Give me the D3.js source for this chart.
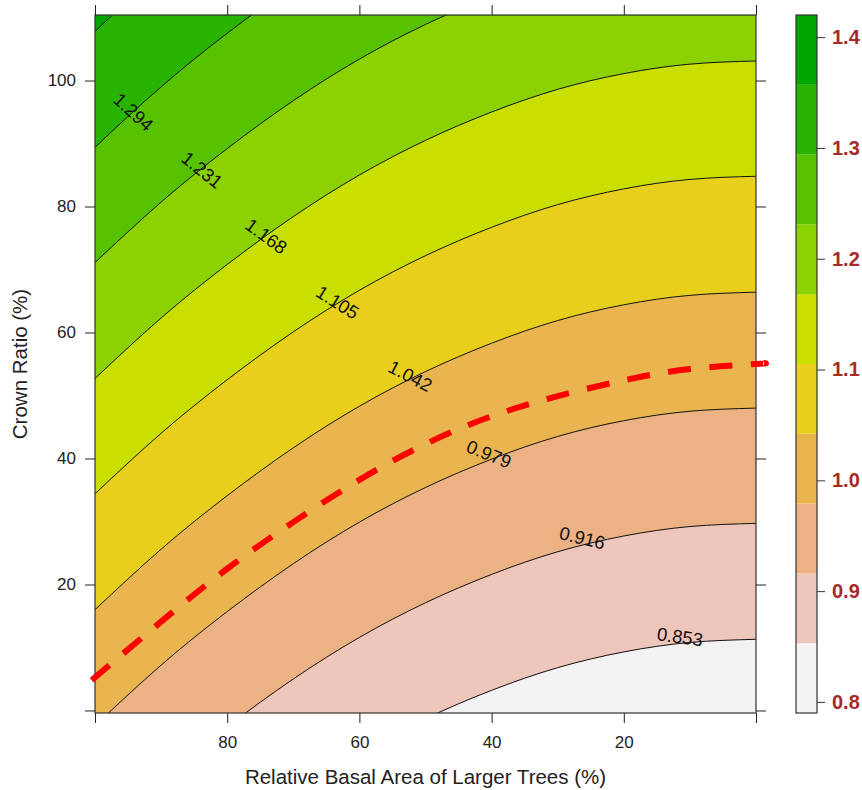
<!DOCTYPE html>
<html>
<head>
<meta charset="utf-8">
<script src="https://cdn.jsdelivr.net/npm/d3@7"></script>
<style>
  body { margin: 0; background: #fff; }
  svg { display: block; font-family: "Liberation Sans", Arial, sans-serif; }
</style>
</head>
<body>
<div id="chart"></div>
<script>
// x columns (Relative Basal Area of Larger Trees, %) where each contour was read
const basalArea = [100, 90, 80, 70, 60, 50, 40, 30, 20, 10, 0];

const contourLevels = [0.853, 0.916, 0.979, 1.042, 1.105, 1.168, 1.231, 1.294, 1.357];

// Crown Ratio (%) of each contour line at the columns above (parts outside the panel are estimates)
const contourCrownRatio = [
    [-39.1, -29.5, -21.0, -13.4, -6.8, -1.3, 3.2, 6.8, 9.3, 10.8, 11.3],
    [-20.7, -11.1, -2.6, 5.0, 11.6, 17.1, 21.6, 25.2, 27.7, 29.2, 29.7],
    [-2.4, 7.2, 15.7, 23.3, 29.9, 35.4, 39.9, 43.5, 46.0, 47.5, 48.0],
    [16.0, 25.6, 34.1, 41.7, 48.3, 53.8, 58.3, 61.9, 64.4, 65.9, 66.4],
    [34.4, 44.0, 52.5, 60.1, 66.7, 72.2, 76.7, 80.3, 82.8, 84.3, 84.8],
    [52.7, 62.3, 70.8, 78.4, 85.0, 90.5, 95.0, 98.6, 101.1, 102.6, 103.1],
    [71.1, 80.7, 89.2, 96.8, 103.4, 108.9, 113.4, 117.0, 119.5, 121.0, 121.5],
    [89.4, 99.0, 107.5, 115.1, 121.7, 127.2, 131.7, 135.3, 137.8, 139.3, 139.8],
    [107.8, 117.4, 125.9, 133.5, 140.1, 145.6, 150.1, 153.7, 156.2, 157.7, 158.2]
];

// label anchors for 0.853 ... 1.294
const labelBasalArea = [11.5, 26.3, 40.4, 52.3, 63.3, 74.1, 83.8, 94.2];
const labelCrownRatio = [11.7, 27.4, 40.7, 53.1, 64.8, 75.3, 85.8, 95.0];

// red dashed line
const thresholdBasalArea = [100.5, 90, 80, 70, 60, 50, 40, 30, 20, 10, 0, -1.2];
const thresholdCrownRatio = [4.8, 14.1, 22.5, 29.9, 36.6, 42.3, 46.7, 49.9, 52.4, 54.2, 55.0, 55.1];

const keyBreaks = [0.79, 0.853, 0.916, 0.979, 1.042, 1.105, 1.168, 1.231, 1.294, 1.357, 1.42];
const bandColors = ["#F2F2F2", "#EFC6BB", "#EDB284", "#EAB54F", "#E7CF1C",
                    "#C8DF00", "#8CD100", "#57C200", "#28B400", "#00A600"];
const keyTicks = [0.8, 0.9, 1.0, 1.1, 1.2, 1.3, 1.4];

const xTicks = [100, 80, 60, 40, 20, 0];
const xTickLabels = ["", "80", "60", "40", "20", ""];
const yTicks = [0, 20, 40, 60, 80, 100];
const yTickLabels = ["", "20", "40", "60", "80", "100"];

class ContourChart {
    constructor(_config) {
        this.config = {
            parentElement: _config.parentElement,
            containerWidth: _config.containerWidth,
            containerHeight: _config.containerHeight,
            margin: {top: 15, bottom: 77, right: 106, left: 95}
        };
        this.initVis();
    }

    initVis() {
        let vis = this;

        vis.width = vis.config.containerWidth - vis.config.margin.left - vis.config.margin.right;
        vis.height = vis.config.containerHeight - vis.config.margin.top - vis.config.margin.bottom;

        vis.root = d3.select(vis.config.parentElement).append("svg")
            .attr("width", vis.config.containerWidth)
            .attr("height", vis.config.containerHeight);

        vis.svg = vis.root.append("g")
            .attr("transform", `translate(${vis.config.margin.left}, ${vis.config.margin.top})`);

        vis.xScale = d3.scaleLinear().domain([100, 0]).range([0, vis.width]);
        vis.yScale = d3.scaleLinear().domain([-0.4, 110.4]).range([vis.height, 0]);
        vis.keyScale = d3.scaleLinear().domain([keyBreaks[0], keyBreaks[keyBreaks.length - 1]]).range([vis.height, 0]);

        vis.svg.append("clipPath").attr("id", "panel-clip")
            .append("rect")
            .attr("width", vis.width)
            .attr("height", vis.height);

        vis.bandLayer = vis.svg.append("g").attr("clip-path", "url(#panel-clip)");
        vis.lineLayer = vis.svg.append("g").attr("clip-path", "url(#panel-clip)");
        vis.labelLayer = vis.svg.append("g");

        vis.renderVis();
    }

    renderVis() {
        let vis = this;
        const [yLo, yHi] = vis.yScale.domain();

        const lines = contourCrownRatio.map(row => basalArea.map((x, j) => ({x: x, y: row[j]})));

        const bands = bandColors.map((color, i) => ({
            color: color,
            points: basalArea.map((x, j) => ({
                x: x,
                lo: i === 0 ? yLo : contourCrownRatio[i - 1][j],
                hi: i === bandColors.length - 1 ? yHi : contourCrownRatio[i][j]
            }))
        }));

        const area = d3.area()
            .x(d => vis.xScale(d.x))
            .y0(d => vis.yScale(d.lo))
            .y1(d => vis.yScale(d.hi))
            .curve(d3.curveNatural);

        vis.bandLayer.selectAll("path")
            .data(bands)
            .join("path")
            .attr("d", d => area(d.points))
            .attr("fill", d => d.color)
            .attr("stroke", d => d.color)
            .attr("stroke-width", 0.6);

        const line = d3.line()
            .x(d => vis.xScale(d.x))
            .y(d => vis.yScale(d.y))
            .curve(d3.curveNatural);

        vis.lineLayer.selectAll("path")
            .data(lines)
            .join("path")
            .attr("d", line)
            .attr("fill", "none")
            .attr("stroke", "#111")
            .attr("stroke-width", 1);

        // contour labels; the rotation comes out mirrored because the x axis runs backwards
        const labels = labelBasalArea.map((x, i) => {
            const interp = d3.scaleLinear().domain(basalArea).range(contourCrownRatio[i]);
            const dx = vis.xScale(x - 1) - vis.xScale(x + 1);
            const dy = vis.yScale(interp(x - 1)) - vis.yScale(interp(x + 1));
            const angle = Math.atan2(dy, dx) * 180 / Math.PI;
            return {
                text: d3.format(".3f")(contourLevels[i]),
                px: vis.xScale(x),
                py: vis.yScale(labelCrownRatio[i]),
                angle: -angle
            };
        });

        vis.labelLayer.selectAll("text")
            .data(labels)
            .join("text")
            .attr("transform", d => `translate(${d.px}, ${d.py}) rotate(${d.angle})`)
            .attr("text-anchor", "middle")
            .attr("dominant-baseline", "central")
            .attr("font-size", 18.5)
            .attr("fill", "#111")
            .text(d => d.text);

        // panel frame and axes
        vis.svg.append("rect")
            .attr("width", vis.width)
            .attr("height", vis.height)
            .attr("fill", "none")
            .attr("stroke", "#333")
            .attr("stroke-width", 1.2);

        const styleAxis = g => {
            g.select(".domain").remove();
            g.attr("font-family", "'Liberation Sans', Arial, sans-serif")
                .attr("font-size", 17)
                .attr("color", "#222");
        };

        vis.svg.append("g")
            .attr("transform", `translate(0, ${vis.height})`)
            .call(d3.axisBottom(vis.xScale).tickValues(xTicks)
                .tickFormat(d => xTickLabels[xTicks.indexOf(d)])
                .tickSize(10).tickPadding(13).tickSizeOuter(0))
            .call(styleAxis);

        vis.svg.append("g")
            .call(d3.axisTop(vis.xScale).tickValues(xTicks).tickFormat("")
                .tickSize(10).tickSizeOuter(0))
            .call(styleAxis);

        vis.svg.append("g")
            .call(d3.axisLeft(vis.yScale).tickValues(yTicks)
                .tickFormat(d => yTickLabels[yTicks.indexOf(d)])
                .tickSize(10).tickPadding(9).tickSizeOuter(0))
            .call(styleAxis);

        vis.svg.append("g")
            .attr("transform", `translate(${vis.width}, 0)`)
            .call(d3.axisRight(vis.yScale).tickValues(yTicks).tickFormat("")
                .tickSize(10).tickSizeOuter(0))
            .call(styleAxis);

        // threshold line, drawn unclipped
        const threshold = thresholdBasalArea.map((x, j) => ({x: x, y: thresholdCrownRatio[j]}));
        vis.svg.append("path")
            .datum(threshold)
            .attr("d", line)
            .attr("fill", "none")
            .attr("stroke", "#FF0000")
            .attr("stroke-width", 6)
            .attr("stroke-dasharray", "23 18.5");

        // colour key
        const keyX = 701, keyW = 21;
        const key = vis.svg.append("g").attr("transform", `translate(${keyX}, 0)`);

        key.selectAll("rect.band")
            .data(bandColors)
            .join("rect")
            .attr("class", "band")
            .attr("x", 0)
            .attr("width", keyW)
            .attr("y", (d, i) => vis.keyScale(keyBreaks[i + 1]))
            .attr("height", (d, i) => vis.keyScale(keyBreaks[i]) - vis.keyScale(keyBreaks[i + 1]))
            .attr("fill", d => d);

        key.append("rect")
            .attr("width", keyW)
            .attr("height", vis.height)
            .attr("fill", "none")
            .attr("stroke", "#333")
            .attr("stroke-width", 1.2);

        key.append("g")
            .attr("transform", `translate(${keyW}, 0)`)
            .call(d3.axisRight(vis.keyScale).tickValues(keyTicks).tickFormat(d3.format(".1f"))
                .tickSize(8).tickPadding(7).tickSizeOuter(0))
            .call(g => {
                g.select(".domain").remove();
                g.attr("font-family", "'Liberation Sans', Arial, sans-serif")
                    .attr("font-size", 20)
                    .attr("font-weight", "bold")
                    .attr("color", "#A52A2A");
                g.selectAll(".tick line").attr("stroke", "#333");
            });

        // axis titles
        vis.root.append("text")
            .attr("x", vis.config.margin.left + vis.width / 2)
            .attr("y", 784)
            .attr("text-anchor", "middle")
            .attr("font-size", 20.5)
            .attr("fill", "#222")
            .text("Relative Basal Area of Larger Trees (%)");

        vis.root.append("text")
            .attr("transform", `translate(27, ${vis.config.margin.top + vis.height / 2}) rotate(-90)`)
            .attr("text-anchor", "middle")
            .attr("font-size", 20.5)
            .attr("fill", "#222")
            .text("Crown Ratio (%)");
    }
}

new ContourChart({parentElement: "#chart", containerWidth: 862, containerHeight: 790});
</script>
</body>
</html>
